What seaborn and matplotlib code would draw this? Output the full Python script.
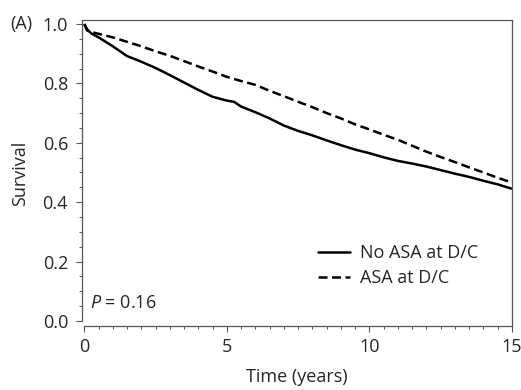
import pandas as pd
import seaborn as sns
import matplotlib.pyplot as plt
from matplotlib.ticker import MultipleLocator

# Kaplan-Meier style survival values
time = [0, 0.1, 0.25, 0.5, 1, 1.5, 2, 2.5, 3, 3.5, 4, 4.5, 5, 5.25, 5.5, 6, 6.5, 7, 7.5,
        8, 8.5, 9, 9.5, 10, 10.5, 11, 11.5, 12, 12.5, 13, 13.5, 14, 14.5, 15]
no_asa = [1.0, 0.982, 0.968, 0.955, 0.925, 0.892, 0.873, 0.852, 0.828, 0.803, 0.778,
          0.755, 0.742, 0.738, 0.722, 0.703, 0.682, 0.658, 0.640, 0.625, 0.608, 0.592,
          0.577, 0.565, 0.551, 0.539, 0.530, 0.520, 0.508, 0.496, 0.485, 0.472, 0.460, 0.445]
asa = [1.0, 0.978, 0.973, 0.967, 0.955, 0.940, 0.925, 0.908, 0.893, 0.875, 0.857,
       0.840, 0.822, 0.815, 0.808, 0.795, 0.775, 0.757, 0.738, 0.720, 0.700, 0.682,
       0.662, 0.645, 0.627, 0.610, 0.590, 0.570, 0.552, 0.535, 0.517, 0.500, 0.482, 0.466]
groups = ["No ASA at D/C", "ASA at D/C"]

df = pd.DataFrame({
    "Time": time + time,
    "Survival": no_asa + asa,
    "Group": [groups[0]] * len(time) + [groups[1]] * len(time),
})

sns.set_style("ticks")
plt.rcParams["font.family"] = ["Open Sans", "DejaVu Sans"]
plt.rcParams["mathtext.fontset"] = "custom"
plt.rcParams["mathtext.it"] = "Open Sans:italic"
plt.rcParams["mathtext.rm"] = "Open Sans"

fs = 13
dash = (3.6, 1.8)

fig = plt.figure(figsize=(5.21, 3.90), dpi=100)
ax = fig.add_axes([82 / 521, 1 - 326 / 390, 430 / 521, 306 / 390])

sns.lineplot(data=df, x="Time", y="Survival", hue="Group", style="Group",
             palette=["black", "black"], dashes=[(1, 0), dash],
             linewidth=1.8, ax=ax, legend=False)

ax.set_xlim(-0.08, 15.0)
ax.set_ylim(-0.017, 1.0135)
ax.xaxis.set_major_locator(MultipleLocator(5))
ax.xaxis.set_minor_locator(MultipleLocator(0.5))
ax.yaxis.set_major_locator(MultipleLocator(0.2))
ax.yaxis.set_minor_locator(MultipleLocator(0.05))
ax.set_yticks([0, 0.2, 0.4, 0.6, 0.8, 1.0])
ax.set_yticklabels(["0.0", "0.2", "0.4", "0.6", "0.8", "1.0"])

for s in ["left", "bottom", "top", "right"]:
    ax.spines[s].set_color("#555555")
    ax.spines[s].set_linewidth(0.9)
ax.spines["left"].set_bounds(0, 1.0135)
ax.spines["bottom"].set_bounds(0, 15)
ax.tick_params(axis="both", which="major", length=4, width=0.8, color="#555555",
               labelsize=fs)
ax.tick_params(axis="y", which="major", pad=6)
ax.tick_params(axis="x", which="major", pad=5)
ax.tick_params(axis="both", which="minor", length=2.5, width=0.7, color="#555555")

ax.set_xlabel("Time (years)", fontsize=fs, labelpad=8)
ax.set_ylabel("Survival", fontsize=fs, labelpad=10)

ax.text(0.2, 0.06, "$P$ = 0.16", fontsize=fs, va="center", ha="left")
fig.text(10 / 521, 1 - 24 / 390, "(A)", fontsize=fs, va="center", ha="left")

ax.plot([], [], color="black", lw=1.8, label=groups[0])
ax.plot([], [], color="black", lw=1.8, dashes=dash, label=groups[1])
ax.legend(loc="upper left", bbox_to_anchor=((318 - 82) / 430, (326 - 244) / 306),
          frameon=False, fontsize=fs, borderpad=0, borderaxespad=0,
          handlelength=1.78, handletextpad=0.55, labelspacing=0.4)

plt.savefig("out.png", dpi=100)
